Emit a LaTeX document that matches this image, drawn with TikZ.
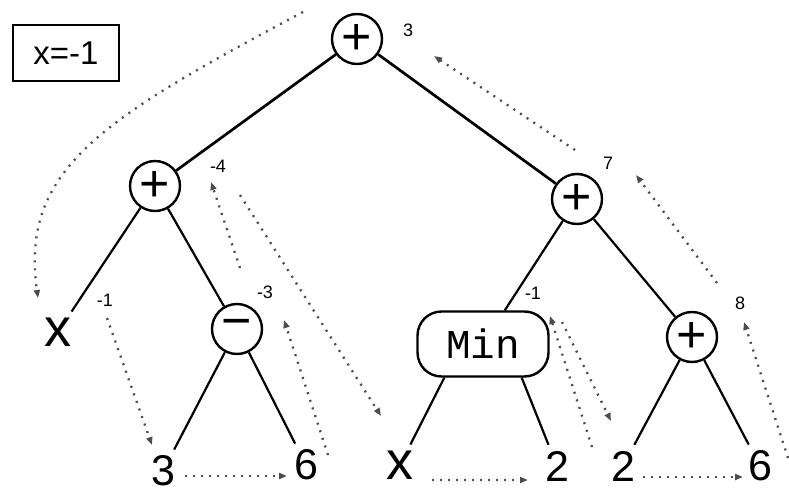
\documentclass[tikz,border=0pt]{standalone}
\usepackage{fontspec}
\setmainfont{Liberation Sans}
\newfontfamily\minfont{Liberation Mono}
\usetikzlibrary{arrows.meta}

\tikzset{
    opnode/.style={circle, draw, line width=2.4pt, minimum size=50pt, inner sep=0pt, font=\fontsize{52}{52}\selectfont},
    minnode/.style={rectangle, draw, line width=2.4pt, rounded corners=24pt, minimum width=131pt, minimum height=65pt, font=\minfont\fontsize{41}{41}\selectfont},
    leaf/.style={inner sep=6pt, font=\fontsize{43}{43}\selectfont},
    xleaf/.style={leaf, font=\fontsize{54}{54}\selectfont},
    val/.style={inner sep=0pt, font=\fontsize{18}{18}\selectfont},
    edge/.style={line width=2.2pt},
    walk/.style={line width=2.3pt, black!70, dash pattern=on 2pt off 6pt, -{Triangle[length=8pt,width=6pt]}},
}

\begin{document}
\begin{tikzpicture}[x=1pt, y=-1pt]%
        \useasboundingbox (0,0) rectangle (789,495);
        % the value of x
        \node [draw, line width=2pt, minimum width=106pt, minimum height=56pt, font=\fontsize{33}{33}\selectfont] (xval) at (66,53) {x=-1};
        % operators
        \node [opnode] (root) at (357,39) {+};
        \node [opnode] (lplus) at (155,186) {+};
        \node [opnode] (rplus) at (577,199) {+};
        \node [opnode] (minus) at (237,329) {\char"2212};
        \node [minnode] (min) at (483,344) {Min};
        \node [opnode] (rrplus) at (692,337) {+};
        % leaves
        \node [xleaf] (xa) at (58,332) {x};
        \node [leaf] (three) at (163,471) {3};
        \node [leaf] (sixa) at (306,465) {6};
        \node [xleaf] (xb) at (400,465) {x};
        \node [leaf] (twoa) at (557,466) {2};
        \node [leaf] (twob) at (623,466) {2};
        \node [leaf] (sixb) at (760,466) {6};
        % values
        \node [val] (vroot) at (408,30) {3};
        \node [val] (vlplus) at (218,166) {-4};
        \node [val] (vrplus) at (608,163) {7};
        \node [val] (vxa) at (105,300) {-1};
        \node [val] (vminus) at (265,292) {-3};
        \node [val] (vmin) at (533,293) {-1};
        \node [val] (vrrplus) at (740,303) {8};
        % tree
        \draw [edge, line width=2.7pt] (root) -- (lplus);
        \draw [edge, line width=2.7pt] (root) -- (rplus);
        \draw [edge] (lplus) -- (xa);
        \draw [edge] (lplus) -- (minus);
        \draw [edge] (minus) -- (three);
        \draw [edge] (minus) -- (sixa);
        \draw [edge] (rplus) -- (min);
        \draw [edge] (rplus) -- (rrplus);
        \draw [edge] (min.south west) ++(28,0) -- (xb);
        \draw [edge] (min.south east) ++(-28,0) -- (twoa);
        \draw [edge] (rrplus) -- (twob);
        \draw [edge] (rrplus) -- (sixb);
        % order of evaluation
        \coordinate (w0) at (303,12);
        \coordinate (w1) at (38,298);
        \draw [walk] (w0) .. controls (100,120) and (20,170) .. (w1);
        \draw [walk] (107,318) -- (152,445);
        \draw [walk] (three) ++(22,5) -- ++(102,0);
        \draw [walk] (328,455) -- (284,320);
        \draw [walk] (240,268) -- (211,182);
        \draw [walk] (240,195) -- (381,416);
        \draw [walk] (xb) ++(32,15) -- ++(96,0);
        \draw [walk] (592,447) -- (550,316);
        \draw [walk] (562,322) -- (611,421);
        \draw [walk] (twob) ++(20,11) -- ++(100,0);
        \draw [walk] (788,458) -- (744,322);
        \draw [walk] (717,283) -- (636,175);
        \draw [walk] (575,150) -- (434,56);
    \end{tikzpicture}
\end{document}
